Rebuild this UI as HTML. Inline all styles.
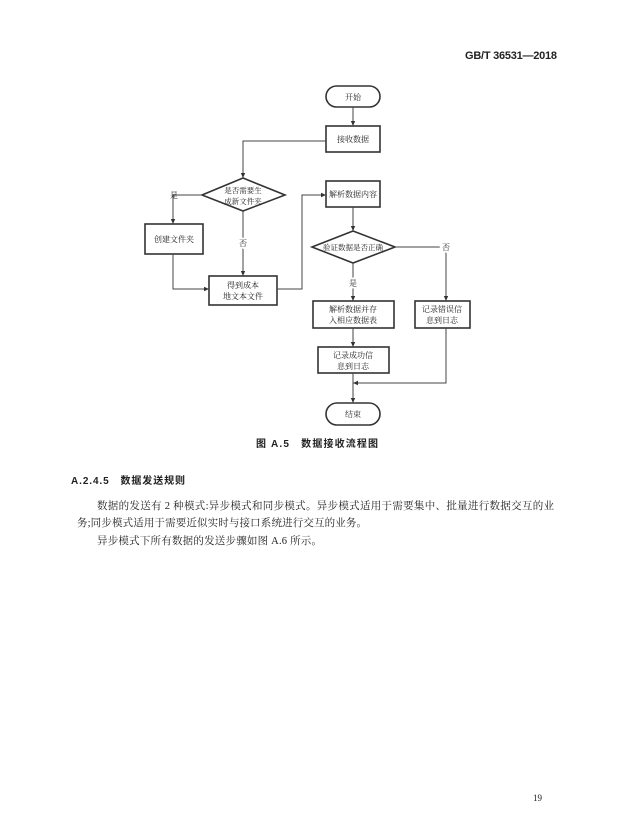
<!DOCTYPE html>
<html><head><meta charset="utf-8"><style>
html,body{margin:0;padding:0;background:#fff}
svg{display:block}
text{font-family:"Liberation Serif","Noto Serif CJK SC",serif;fill:#222}
.b{font-family:"Liberation Sans","Noto Sans CJK SC",sans-serif;font-weight:bold}
</style></head><body>
<svg width="621" height="814" viewBox="0 0 621 814" xmlns="http://www.w3.org/2000/svg">
<defs><marker id="a" markerWidth="6" markerHeight="6" refX="5" refY="3" orient="auto"><path d="M0,0.8 L5,3 L0,5.2z" fill="#333"/></marker></defs>
<text x="465" y="59" font-size="11" class="b" textLength="92">GB/T 36531—2018</text>
<g stroke="#333" stroke-width="1.6" fill="none">
<rect x="326" y="86" width="54" height="21" rx="10.5"/>
<rect x="326" y="126" width="54" height="26"/>
<polygon points="243,178 285,195 243,211 202,195"/>
<rect x="145" y="224" width="58" height="30"/>
<rect x="209" y="276" width="68" height="29"/>
<rect x="326" y="181" width="54" height="26"/>
<polygon points="353,231 395,247 353,263 312,247"/>
<rect x="313" y="301" width="81" height="27"/>
<rect x="415" y="301" width="55" height="27"/>
<rect x="318" y="347" width="71" height="26"/>
<rect x="326" y="403" width="54" height="22" rx="11"/>
</g>
<g stroke="#444" stroke-width="1" fill="none" marker-end="url(#a)">
<path d="M353,107V126"/>
<path d="M326,141H243V178"/>
<path d="M202,195H173V224"/>
<path d="M243,211V276"/>
<path d="M173,254V289H209"/>
<path d="M277,289H302V195H326"/>
<path d="M353,207V231"/>
<path d="M353,263V301"/>
<path d="M395,247H446V301"/>
<path d="M353,328V347"/>
<path d="M353,373V403"/>
<path d="M446,328V383H353"/>
</g>
<g font-size="8" text-anchor="middle">
<text x="353" y="100">开始</text>
<text x="353" y="142">接收数据</text>
<text x="243" y="193" font-size="7.5">是否需要生</text>
<text x="243" y="204" font-size="7.5">成新文件夹</text>
<text x="174" y="242">创建文件夹</text>
<text x="243" y="288">得到成本</text>
<text x="243" y="299">地文本文件</text>
<text x="353" y="197">解析数据内容</text>
<text x="353" y="250" font-size="7.5">验证数据是否正确</text>
<text x="353" y="312">解析数据并存</text>
<text x="353" y="323">入相应数据表</text>
<text x="442" y="312">记录错误信</text>
<text x="442" y="323">息到日志</text>
<text x="353" y="358">记录成功信</text>
<text x="353" y="369">息到日志</text>
<text x="353" y="417">结束</text>
<text x="174" y="198">是</text>
<text x="243" y="246" stroke="#fff" stroke-width="4">否</text><text x="243" y="246">否</text>
<text x="446" y="250" stroke="#fff" stroke-width="4">否</text><text x="446" y="250">否</text>
<text x="353" y="286" stroke="#fff" stroke-width="4">是</text><text x="353" y="286">是</text>
</g>
<text x="256" y="447" font-size="10" class="b" textLength="122">图 A.5　数据接收流程图</text>
<text x="71" y="484" font-size="10" class="b" textLength="114">A.2.4.5　数据发送规则</text>
<text x="97" y="509" font-size="10.5" textLength="457">数据的发送有 2 种模式:异步模式和同步模式。异步模式适用于需要集中、批量进行数据交互的业</text>
<text x="77" y="526" font-size="10.5" textLength="290">务;同步模式适用于需要近似实时与接口系统进行交互的业务。</text>
<text x="97" y="544" font-size="10.5" textLength="225">异步模式下所有数据的发送步骤如图 A.6 所示。</text>
<text x="533" y="801" font-size="9">19</text>
</svg>
</body></html>
